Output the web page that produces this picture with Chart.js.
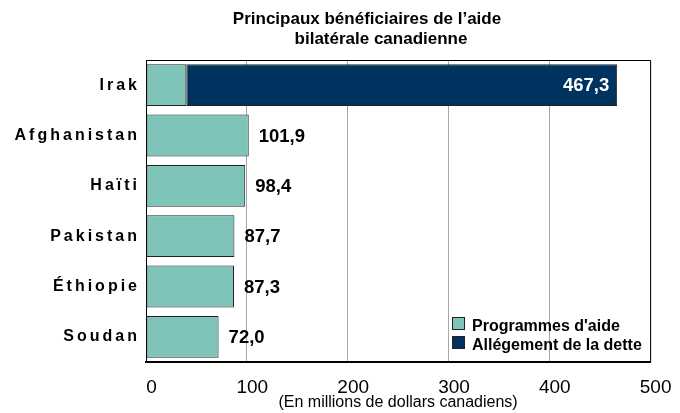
<!DOCTYPE html>
<html><head><meta charset="utf-8">
<script src="https://cdn.jsdelivr.net/npm/chart.js@4"></script>
<style>
html,body{margin:0;padding:0;background:#fff;}
#wrap{position:relative;width:680px;height:413px;font-family:"Liberation Sans",Arial,sans-serif;overflow:hidden;}
canvas{position:absolute;left:0;top:0;}
.t{position:absolute;font-weight:bold;font-size:17px;line-height:20px;white-space:nowrap;transform:translateX(-50%);color:#000;}
.lg{position:absolute;left:452px;height:20px;font-weight:bold;font-size:16px;line-height:20px;white-space:nowrap;color:#000;}
.sw{position:absolute;left:0;top:1px;width:11px;height:11px;border:1px solid #222;}
.lg span{position:absolute;left:20px;top:0;}
</style></head>
<body><div id="wrap">
<canvas id="c" width="680" height="413"></canvas>
<div class="t" style="left:367px;top:9px">Principaux bénéficiaires de l’aide</div>
<div class="t" style="left:381px;top:29px">bilatérale canadienne</div>
<div class="lg" style="top:316px"><div class="sw" id="sw0"></div><span id="lg0"></span></div>
<div class="lg" style="top:335px"><div class="sw" id="sw1"></div><span id="lg1"></span></div>
</div>
<script>
const categories = ['Irak', 'Afghanistan', 'Haïti', 'Pakistan', 'Éthiopie', 'Soudan'];
const aidPrograms = [40.0, 101.9, 98.4, 87.7, 87.3, 72.0];
const debtRelief = [427.3, 0, 0, 0, 0, 0];
const seriesNames = ["Programmes d'aide", 'Allégement de la dette'];
const xTicks = [0, 100, 200, 300, 400, 500];
const xAxisTitle = '(En millions de dollars canadiens)';

const colors = ['#7fc4b9', '#00335f'];
const FONT = '"Liberation Sans", Arial, sans-serif';

seriesNames.forEach((n, i) => {
  document.getElementById('lg' + i).textContent = n;
  document.getElementById('sw' + i).style.background = colors[i];
});

const fmt = v => v.toFixed(1).replace('.', ',');

const decoPlugin = {
  id: 'deco',
  beforeDraw(chart) { chart.ctx.letterSpacing = '0px'; },
  afterDatasetsDraw(chart) {
    const ctx = chart.ctx;
    const a = chart.chartArea;
    // frame top & right
    ctx.save();
    ctx.strokeStyle = '#000';
    ctx.lineWidth = 1;
    ctx.beginPath();
    ctx.moveTo(a.left, a.top + 0.5);
    ctx.lineTo(a.right + 0.5, a.top + 0.5);
    ctx.lineTo(a.right + 0.5, a.bottom);
    ctx.stroke();
    ctx.restore();
    // value labels
    const m0 = chart.getDatasetMeta(0), m1 = chart.getDatasetMeta(1);
    categories.forEach((c, i) => {
      const total = aidPrograms[i] + debtRelief[i];
      const el = debtRelief[i] ? m1.data[i] : m0.data[i];
      const txt = fmt(total);
      ctx.save();
      ctx.font = 'bold 18.5px ' + FONT;
      ctx.textBaseline = 'middle';
      const w = ctx.measureText(txt).width;
      if (el.x + 10 + w > a.right) {
        ctx.fillStyle = '#fff';
        ctx.textAlign = 'right';
        ctx.fillText(txt, el.x - 8, el.y + 1);
      } else {
        ctx.fillStyle = '#000';
        ctx.textAlign = 'left';
        ctx.fillText(txt, el.x + 10, el.y + 1);
      }
      ctx.restore();
    });
    ctx.letterSpacing = '3px';
  },
  afterDraw(chart) { chart.ctx.letterSpacing = '0px'; }
};

new Chart(document.getElementById('c'), {
  type: 'bar',
  data: {
    labels: categories,
    datasets: [
      { label: seriesNames[0], data: aidPrograms, backgroundColor: colors[0] },
      { label: seriesNames[1], data: debtRelief, backgroundColor: colors[1] }
    ].map(d => Object.assign(d, {
      borderColor: '#222',
      borderWidth: c => (c.raw ? 1 : 0),
      borderSkipped: false,
      barPercentage: 0.83,
      categoryPercentage: 1
    }))
  },
  options: {
    indexAxis: 'y',
    responsive: false,
    animation: false,
    layout: { padding: { top: 60, right: 29, left: 0, bottom: 0 } },
    plugins: { legend: { display: false }, tooltip: { enabled: false }, title: { display: false } },
    scales: {
      x: {
        stacked: true,
        min: xTicks[0], max: xTicks[xTicks.length - 1],
        afterBuildTicks: s => { s.ticks = xTicks.map(v => ({ value: v })); },
        afterFit: s => { s.height = 51; },
        grid: { color: '#a8a8a8', lineWidth: 1, drawTicks: false },
        border: { color: '#000', width: 2 },
        ticks: { color: '#000', font: { family: FONT, size: 19 }, padding: 14, labelOffset: 5.5, maxRotation: 0, autoSkip: false },
        title: { display: true, text: xAxisTitle, color: '#000', font: { family: FONT, size: 16 }, padding: { top: 0, bottom: 1 } }
      },
      y: {
        stacked: true,
        afterFit: s => { s.width = 146; },
        grid: { display: false, drawTicks: false },
        border: { color: '#000', width: 1 },
        ticks: { color: '#000', font: { family: FONT, size: 16, weight: 'bold' }, padding: 6, z: 1 }
      }
    }
  },
  plugins: [decoPlugin]
});
</script>
</body></html>
